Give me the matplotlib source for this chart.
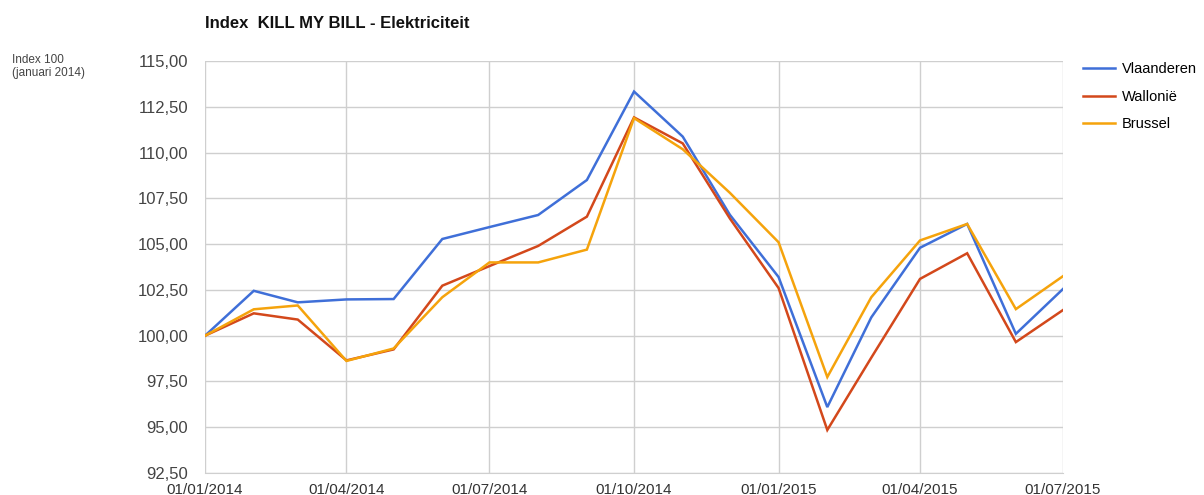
import matplotlib
matplotlib.use("Agg")
import matplotlib.pyplot as plt
import matplotlib.dates as mdates
import pandas as pd

plt.rcParams["font.family"] = ["Liberation Sans", "DejaVu Sans"]

# monthly index values (januari 2014 = 100)
months = pd.date_range("2014-01-01", "2015-07-01", freq="MS")
vlaanderen = [100.0, 102.45, 101.82, 101.98, 102.0, 105.28, 105.93, 106.59, 108.5,
              113.33, 110.87, 106.6, 103.2, 96.1, 101.0, 104.8, 106.1, 100.1, 102.55]
wallonie = [100.0, 101.22, 100.88, 98.65, 99.25, 102.73, 103.8, 104.9, 106.5,
            111.92, 110.5, 106.4, 102.6, 94.85, 98.8, 103.1, 104.5, 99.65, 101.4]
brussel = [100.0, 101.44, 101.65, 98.62, 99.3, 102.1, 104.0, 104.0, 104.7,
           111.88, 110.18, 107.8, 105.1, 97.74, 102.1, 105.2, 106.1, 101.45, 103.25]
series_names = ["Vlaanderen", "Wallonië", "Brussel"]
series_colors = ["#3f6fd8", "#d3481b", "#f5a30c"]

yticks = [92.5 + 2.5 * i for i in range(10)]
xticks = pd.to_datetime(["2014-01-01", "2014-04-01", "2014-07-01", "2014-10-01",
                         "2015-01-01", "2015-04-01", "2015-07-01"])

GRID = "#cfcfcf"

fig = plt.figure(figsize=(12.04, 4.95), dpi=100)
ax = fig.add_axes([0.1703, 0.0444, 0.7126, 0.8324])

for vals, name, col in zip([vlaanderen, wallonie, brussel], series_names, series_colors):
    ax.plot(months, vals, color=col, linewidth=1.8, label=name, solid_joinstyle="miter")

ax.set_xlim(months[0], months[-1])
ax.set_ylim(92.5, 115)
ax.set_yticks(yticks)
ax.set_yticklabels([f"{v:.2f}".replace(".", ",") for v in yticks])
ax.set_xticks(xticks)
ax.xaxis.set_major_formatter(mdates.DateFormatter("%d/%m/%Y"))
ax.grid(True, color=GRID, linewidth=1.0)
ax.set_axisbelow(True)
for s in ax.spines.values():
    s.set_visible(False)
ax.spines["bottom"].set_visible(True)
ax.spines["bottom"].set_color(GRID)
ax.tick_params(length=0)
ax.tick_params(axis="y", labelsize=12, labelcolor="#444444", pad=12)
ax.tick_params(axis="x", labelsize=11, labelcolor="#333333", pad=7)

fig.text(0.170, 0.953, "Index  KILL MY BILL - Elektriciteit", fontsize=12,
         fontweight="bold", color="#111111", va="center", ha="left")
fig.text(0.010, 0.865, "Index 100\n(januari 2014)", fontsize=8.5, color="#444444",
         va="center", ha="left", linespacing=1.1)

leg = ax.legend(loc="upper left", bbox_to_anchor=(1.0163, 1.011), borderaxespad=0,
                frameon=False, fontsize=10.5, handlelength=2.2, handletextpad=0.5,
                labelspacing=0.92)

fig.savefig("out.png", dpi=100)
